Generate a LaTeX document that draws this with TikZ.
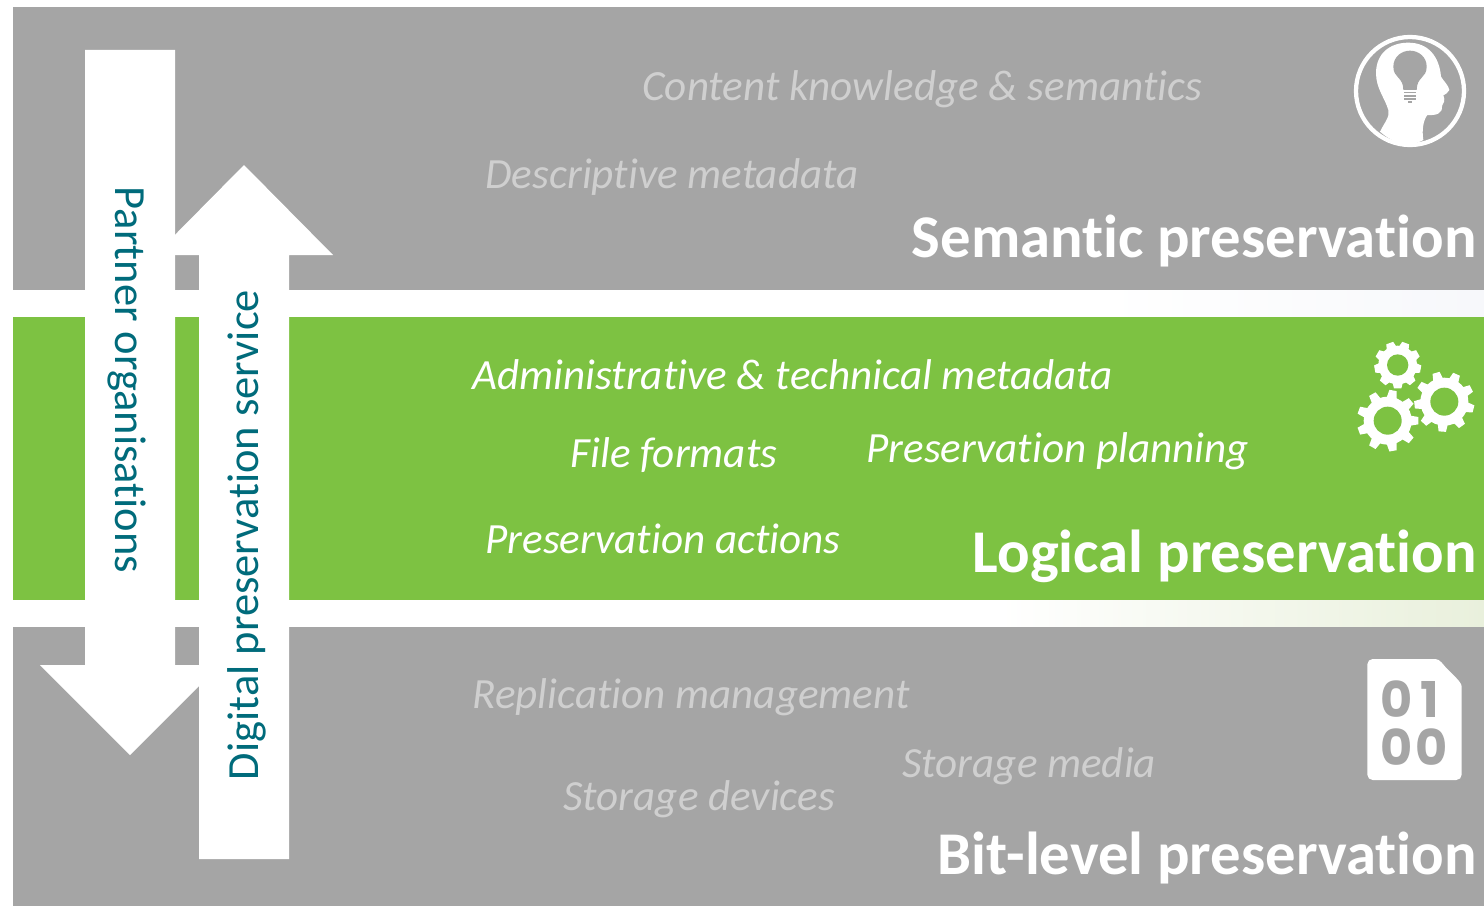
\documentclass[tikz,border=0pt]{standalone}
\usepackage{fontspec}
\setmainfont[Ligatures=NoCommon]{Carlito}
\newfontfamily\bitfont{Poppins}
\definecolor{bandgray}{HTML}{A5A5A5}
\definecolor{bandgreen}{HTML}{7DC242}
\definecolor{softgray}{HTML}{CFCFCF}
\definecolor{servteal}{HTML}{006B7B}
\definecolor{stripblue}{HTML}{F7F8FB}
\definecolor{stripgreen}{HTML}{E9F0DC}
\tikzset{every picture/.style={line width=0.75pt}}
\tikzset{
  topic/.style={anchor=base west,inner sep=0pt,font=\fontsize{32.3}{33}\selectfont\itshape},
  layer/.style={anchor=base east,inner sep=0pt,text=white,font=\fontsize{45.5}{46}\selectfont\bfseries},
  flow/.style={inner sep=0pt,text=servteal,font=\fontsize{33.4}{34}\selectfont},
  bitdigit/.style={inner sep=0pt,text=bandgray,font=\fontsize{37}{37}\bitfont\selectfont\bfseries}
}
\newcommand{\gearicon}[5]{% centre x, centre y, hole, body, tooth radius
  \fill [white] (#1,#2) circle [radius=#4];
  \foreach \ang in {0,40,...,320}
    \fill [white,shift={(#1,#2)},rotate=\ang+#5] (#4-4,-15) -- (#3,-11) -- (#3,11) -- (#4-4,15) -- cycle;
}
\begin{document}
\begin{tikzpicture}[x=0.75pt,y=0.75pt,yscale=-1]
\useasboundingbox (0,0) rectangle (1484,906);

%Shape: Faint strips
\shade [left color=white,right color=stripblue] (1100,288) rectangle (1484,319);
\shade [left color=white,right color=stripgreen] (1000,598) rectangle (1484,629);
%Shape: Rectangle
\fill [bandgray] (13,7) rectangle (1484,290);
\fill [bandgreen] (13,317) rectangle (1484,600);
\fill [bandgray] (13,627) rectangle (1484,906);

%Shape: Down Arrow
\fill [white] (85,50) -- (175,50) -- (175,665) -- (220,665) -- (130,755) -- (40,665) -- (85,665) -- cycle;
%Shape: Up Arrow
\fill [white] (199,859) -- (289,859) -- (289,255) -- (333,255) -- (244,165) -- (155,255) -- (199,255) -- cycle;

% Text Node
\draw (642,100) node (content) [topic,text=softgray] {Content knowledge \& semantics};
% Text Node
\draw (485,188) node (descriptive) [topic,text=softgray] {Descriptive metadata};
% Text Node
\draw (1477,257) node (semantic) [layer] {Semantic preservation};
% Text Node
\draw (472,389) node (administrative) [topic,text=white] {Administrative \& technical metadata};
% Text Node
\draw (570,467) node (formats) [topic,text=white] {File formats};
% Text Node
\draw (866,462) node (planning) [topic,text=white] {Preservation planning};
% Text Node
\draw (485,553) node (actions) [topic,text=white] {Preservation actions};
% Text Node
\draw (1477,572) node (logical) [layer] {Logical preservation};
% Text Node
\draw (472,708) node (replication) [topic,text=softgray] {Replication management};
% Text Node
\draw (902,777) node (media) [topic,text=softgray] {Storage media};
% Text Node
\draw (563,810) node (devices) [topic,text=softgray] {Storage devices};
% Text Node
\draw (1477,874) node (bitlevel) [layer] {Bit-level preservation};
% Text Node
\draw (127,380) node (partner) [flow,rotate=-90] {Partner organisations};
% Text Node
\draw (247,535) node (service) [flow,rotate=90] {Digital preservation service};

%Head icon
\begin{scope}[shift={(1340,20)},x=0.25pt,y=0.25pt]
\draw [white,line width=3.2pt] (210,213) circle [radius=162];
\fill [white] (120,335) .. controls (135,305) and (150,290) .. (145,270) .. controls (135,235) and (108,205) .. (108,160) .. controls (108,100) and (150,68) .. (205,68) .. controls (265,68) and (298,110) .. (303,170) .. controls (312,185) and (325,195) .. (328,210) .. controls (325,220) and (315,222) .. (310,226) .. controls (316,240) and (312,250) .. (306,258) .. controls (308,280) and (290,287) .. (262,285) .. controls (250,300) and (245,330) .. (250,360) .. controls (205,385) and (160,370) .. (120,335) -- cycle;
\fill [bandgray] (190,210) .. controls (190,170) and (160,175) .. (160,140) .. controls (160,110) and (185,92) .. (210,92) .. controls (235,92) and (260,110) .. (260,140) .. controls (260,175) and (230,170) .. (230,210) -- cycle;
\foreach \bandy in {215,225,235}
  \fill [bandgray] (193,\bandy) rectangle (227,\bandy+5);
\fill [bandgray] (203,243) rectangle (217,248);
\end{scope}

%Gear icon
\begin{scope}[shift={(1340,330)},x=0.25pt,y=0.25pt]
\gearicon{173}{105}{70}{58}{10}
\gearicon{313}{215}{90}{72}{14}
\gearicon{143}{272}{92}{72}{0}
\fill [bandgreen] (173,105) circle [radius=32];
\fill [bandgreen] (313,215) circle [radius=42];
\fill [bandgreen] (143,272) circle [radius=42];
\end{scope}

%Bit icon
\begin{scope}[shift={(1340,650)},x=0.25pt,y=0.25pt]
\fill [white,rounded corners=4pt] (82,27) -- (270,27) .. controls (300,27) and (310,45) .. (330,65) .. controls (350,85) and (365,100) .. (365,125) -- (365,390) -- (82,390) -- cycle;
\draw (170,147) node (bitA) [bitdigit] {0};
\draw (270,147) node (bitB) [bitdigit] {1};
\draw (170,290) node (bitC) [bitdigit] {0};
\draw (276,290) node (bitD) [bitdigit] {0};
\end{scope}

\end{tikzpicture}
\end{document}
